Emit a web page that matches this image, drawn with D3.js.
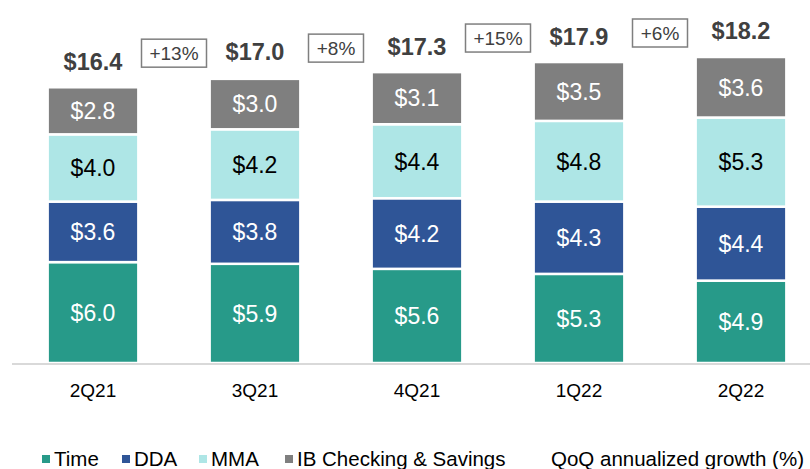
<!DOCTYPE html>
<html>
<head>
<meta charset="utf-8">
<script src="https://cdn.jsdelivr.net/npm/d3@7"></script>
<style>
  body { margin: 0; background: #fff; }
  text { font-family: "Liberation Sans", Arial, sans-serif; }
</style>
</head>
<body>
<svg id="chart"></svg>
<script>
// data
var quarters = ["2Q21", "3Q21", "4Q21", "1Q22", "2Q22"];
var time = [6.0, 5.9, 5.6, 5.3, 4.9];
var dda = [3.6, 3.8, 4.2, 4.3, 4.4];
var mma = [4.0, 4.2, 4.4, 4.8, 5.3];
var ibChecking = [2.8, 3.0, 3.1, 3.5, 3.6];
var totals = [16.4, 17.0, 17.3, 17.9, 18.2];
var growth = ["+13%", "+8%", "+15%", "+6%"];

var seriesNames = ["Time", "DDA", "MMA", "IB Checking & Savings"];
var seriesColors = ["#279a89", "#2f5597", "#aee6e6", "#7f7f7f"];
var labelColors = ["#ffffff", "#ffffff", "#000000", "#ffffff"];

var width = 810, height = 469;

var svg = d3.select("#chart")
  .attr("width", width)
  .attr("height", height);

var rows = quarters.map(function(q, i) {
  return { q: q, Time: time[i], DDA: dda[i], MMA: mma[i], "IB Checking & Savings": ibChecking[i] };
});

var stack = d3.stack().keys(seriesNames);
var layers = stack(rows);

var x = d3.scaleBand()
  .domain(quarters)
  .range([12, 822])
  .paddingInner(0.44)
  .paddingOuter(0.22);

var y = d3.scaleLinear()
  .domain([0, 18.2])
  .range([363, 57]);

// bars
var layerG = svg.selectAll("g.layer")
  .data(layers)
  .enter().append("g")
  .attr("class", "layer")
  .attr("fill", function(d, i) { return seriesColors[i]; });

layerG.selectAll("rect")
  .data(function(d) { return d; })
  .enter().append("rect")
  .attr("x", function(d) { return x(d.data.q); })
  .attr("width", x.bandwidth())
  .attr("y", function(d) { return y(d[1]); })
  .attr("height", function(d) { return y(d[0]) - y(d[1]); })
  .attr("stroke", "#fff")
  .attr("stroke-width", 2.5);

layerG.selectAll("text")
  .data(function(d, i) { return d.map(function(p) { p.ci = i; return p; }); })
  .enter().append("text")
  .attr("x", function(d) { return x(d.data.q) + x.bandwidth() / 2; })
  .attr("y", function(d) { return (y(d[0]) + y(d[1])) / 2; })
  .attr("dy", "0.36em")
  .attr("text-anchor", "middle")
  .attr("font-size", 23)
  .attr("fill", function(d) { return labelColors[d.ci]; })
  .text(function(d) { return "$" + (d[1] - d[0]).toFixed(1); });

// axis line
svg.append("line")
  .attr("x1", 12).attr("x2", 810)
  .attr("y1", 364).attr("y2", 364)
  .attr("stroke", "#d9d9d9")
  .attr("stroke-width", 2);

// category labels
svg.selectAll("text.cat")
  .data(quarters)
  .enter().append("text")
  .attr("class", "cat")
  .attr("x", function(d) { return x(d) + x.bandwidth() / 2; })
  .attr("y", 397)
  .attr("text-anchor", "middle")
  .attr("font-size", 19)
  .attr("fill", "#000")
  .text(function(d) { return d; });

// totals
svg.selectAll("text.total")
  .data(totals)
  .enter().append("text")
  .attr("class", "total")
  .attr("x", function(d, i) { return x(quarters[i]) + x.bandwidth() / 2; })
  .attr("y", function(d) { return y(d) - 26; })
  .attr("dy", "0.36em")
  .attr("text-anchor", "middle")
  .attr("font-size", 23.5)
  .attr("font-weight", "bold")
  .attr("fill", "#404040")
  .text(function(d) { return "$" + d.toFixed(1); });

// growth boxes
var boxes = svg.selectAll("g.growth")
  .data(growth)
  .enter().append("g")
  .attr("class", "growth")
  .attr("transform", function(d, i) {
    var cx = (x(quarters[i]) + x.bandwidth() + x(quarters[i + 1])) / 2;
    var cy = y(totals[i + 1]) - 24;
    return "translate(" + cx + "," + cy + ")";
  });

boxes.append("rect")
  .attr("x", function(d) { return d.length > 3 ? -32.5 : -27.5; })
  .attr("width", function(d) { return d.length > 3 ? 65 : 55; })
  .attr("y", -14)
  .attr("height", 28)
  .attr("fill", "#fff")
  .attr("stroke", "#7f7f7f")
  .attr("stroke-width", 1.5);

boxes.append("text")
  .attr("text-anchor", "middle")
  .attr("dy", "0.36em")
  .attr("font-size", 19)
  .attr("fill", "#404040")
  .text(function(d) { return d; });

// legend
var legendX = [42, 122, 199, 285];
var legend = svg.selectAll("g.legend")
  .data(seriesNames)
  .enter().append("g")
  .attr("class", "legend")
  .attr("transform", function(d, i) { return "translate(" + legendX[i] + ",459)"; });

legend.append("rect")
  .attr("x", 0).attr("y", -4)
  .attr("width", 8).attr("height", 8)
  .attr("fill", function(d, i) { return seriesColors[i]; });

legend.append("text")
  .attr("x", 12)
  .attr("dy", "0.36em")
  .attr("font-size", 20.5)
  .attr("fill", "#000")
  .text(function(d) { return d; });

svg.append("text")
  .attr("x", 551)
  .attr("y", 459)
  .attr("dy", "0.36em")
  .attr("font-size", 20.5)
  .attr("fill", "#000")
  .text("QoQ annualized growth (%)");
</script>
</body>
</html>
